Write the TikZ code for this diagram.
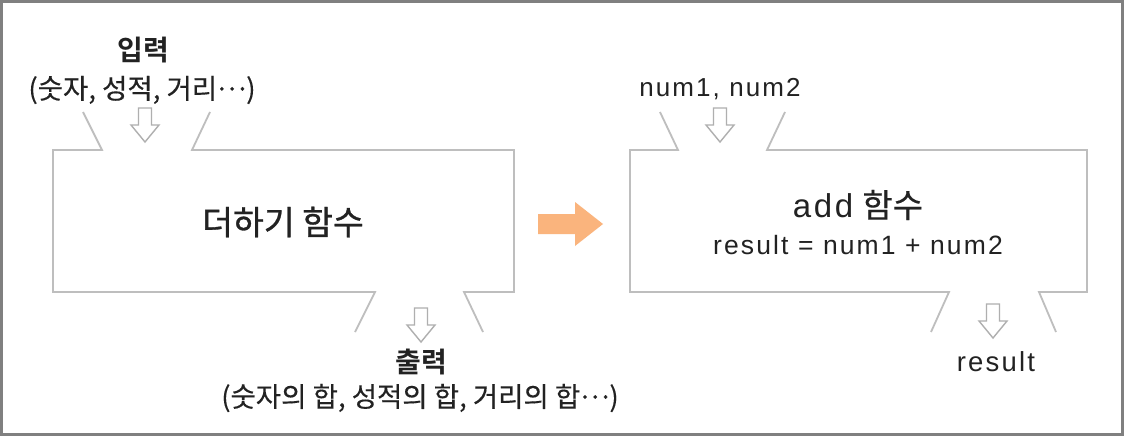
\documentclass[tikz,border=0pt]{standalone}
\usepackage{fontspec}
\setmainfont{Liberation Sans}
\newfontfamily\kr{Noto Sans CJK KR}[FakeBold=0.3]
\newfontfamily\krb{Noto Sans CJK KR Bold}
\newfontfamily\krmed{Noto Sans CJK KR}[FakeBold=0.9]
\newfontfamily\lat{Liberation Sans}[LetterSpace=8]
\newcommand{\midellip}{\raisebox{0.3em}{…}}
\definecolor{framegray}{RGB}{128,128,128}
\definecolor{boxgray}{RGB}{190,190,190}
\definecolor{arrowgray}{RGB}{175,175,175}
\definecolor{txt}{RGB}{34,34,34}
\definecolor{orangearrow}{RGB}{250,180,125}
\tikzset{
  frameline/.style={draw=framegray, line width=3pt},
  boxline/.style={draw=boxgray, line width=1.8pt},
  arrowline/.style={draw=arrowgray, line width=1.4pt, fill=white},
  lbl/.style={inner sep=0pt, text=txt},
  hollowarrow/.pic={\draw[arrowline] (-6.5,-17)--(6.5,-17)--(6.5,0)--(14,0)--(0,17)--(-14,0)--(-6.5,0)--cycle;}
}
\begin{document}
\begin{tikzpicture}[x=1pt,y=-1pt]
\useasboundingbox (0,0) rectangle (1124,436);
\fill[white] (0,0) rectangle (1124,436);
\draw[frameline] (1.5,1.5) rectangle (1122.5,434.5);

% left box
\draw[boxline] (83,112)--(102,150)--(53,150)--(53,292)--(375,292)--(355,332);
\draw[boxline] (483,332)--(464,292)--(514,292)--(514,150)--(192,150)--(210,112);
% right box
\draw[boxline] (660,112)--(678,150)--(630,150)--(630,292)--(949,292)--(931,332);
\draw[boxline] (1056,332)--(1039,292)--(1087,292)--(1087,150)--(767,150)--(785,112);

% hollow arrows
\pic at (145,125) {hollowarrow};
\pic at (421,325) {hollowarrow};
\pic at (720,125) {hollowarrow};
\pic at (993,321) {hollowarrow};

% orange arrow
\fill[orangearrow] (538,214)--(575,214)--(575,202)--(603,224)--(575,246)--(575,234)--(538,234)--cycle;

% texts
\node[lbl, font=\krb\fontsize{28}{33}\selectfont] (in) at (143,50) {입력};
\node[lbl, font=\kr\fontsize{27.5}{33}\selectfont] (inlist) at (142,90) {(숫자, 성적, 거리\midellip)};
\node[lbl, font=\krmed\fontsize{33.5}{40}\selectfont] (addk) at (283,222) {더하기 함수};
\node[lbl, font=\krb\fontsize{28}{33}\selectfont] (out) at (421,362) {출력};
\node[lbl, font=\kr\fontsize{27.5}{33}\selectfont] (outlist) at (420,398) {(숫자의 합, 성적의 합, 거리의 합\midellip)};
\node[lbl, font=\lat\fontsize{26}{31}\selectfont] (nums) at (720,89) {num1, num2};
\node[lbl, font=\fontsize{33}{40}\selectfont] (addf) at (858,205) {{\lat add} {\kr 함수}};
\node[lbl, font=\lat\fontsize{26.5}{32}\selectfont] (formula) at (858,245) {result = num1 + num2};
\node[lbl, font=\lat\fontsize{27.5}{33}\selectfont] (res) at (996,362) {result};
\end{tikzpicture}
\end{document}
